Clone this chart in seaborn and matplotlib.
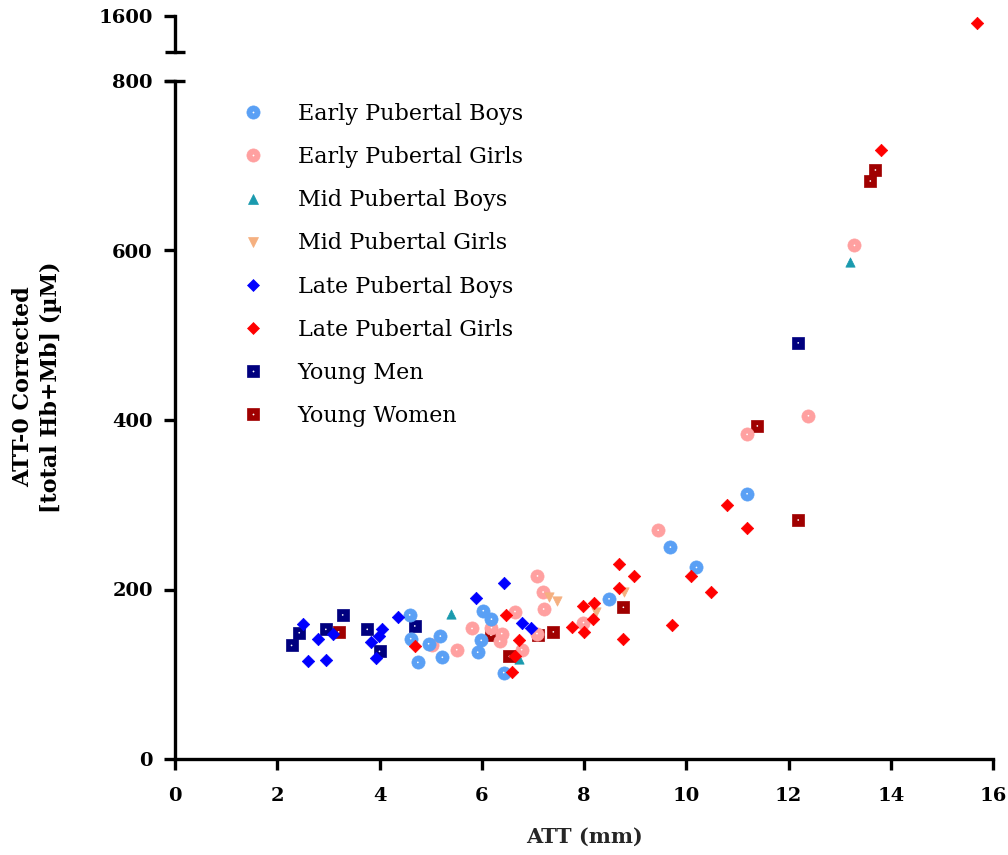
import matplotlib
matplotlib.use('Agg')
import matplotlib.pyplot as plt
import seaborn as sns
import pandas as pd
from matplotlib.lines import Line2D

# ATT (mm) and corrected [total Hb+Mb] (uM) per group
early_boys_att = [4.59, 4.61, 4.96, 5.19, 5.23, 4.75, 6.03, 6.19, 5.99, 5.92, 6.43, 8.49, 9.69, 10.20, 11.19]
early_boys_val = [170, 142, 136, 145, 120, 114, 175, 165, 140, 126, 102, 189, 250, 226, 313]

early_girls_att = [5.03, 5.51, 5.81, 6.19, 6.39, 6.35, 6.65, 6.78, 7.09, 7.20, 7.21, 7.08, 7.99, 9.45, 11.19, 12.39, 13.29]
early_girls_val = [134, 129, 154, 155, 148, 139, 174, 129, 216, 197, 177, 148, 161, 270, 383, 405, 606]

mid_boys_att = [5.39, 6.73, 13.20]
mid_boys_val = [171, 118, 586]

mid_girls_att = [7.31, 7.47, 8.24, 8.79]
mid_girls_val = [191, 186, 174, 197]

late_boys_att = [2.50, 2.79, 3.09, 2.61, 2.95, 4.05, 3.99, 3.83, 3.93, 4.36, 6.44, 5.89, 6.79, 6.97]
late_boys_val = [159, 142, 148, 116, 117, 153, 145, 138, 119, 167, 208, 190, 161, 155]

late_girls_att = [4.70, 6.48, 6.73, 6.66, 6.60, 7.76, 7.99, 8.19, 8.17, 8.00, 8.69, 8.68, 8.76, 8.98,
                  9.73, 10.09, 10.49, 10.79, 11.19, 13.80, 15.68]
late_girls_val = [133, 170, 140, 121, 103, 156, 180, 184, 165, 150, 230, 202, 142, 216,
                  158, 216, 197, 300, 273, 719, 1592]

young_men_att = [2.43, 2.28, 2.95, 3.28, 3.76, 4.00, 4.69, 12.19]
young_men_val = [149, 134, 153, 170, 153, 127, 157, 491]

young_women_att = [3.20, 6.18, 6.54, 7.11, 7.40, 8.77, 11.39, 12.19, 13.60, 13.70]
young_women_val = [150, 146, 121, 146, 150, 179, 393, 282, 682, 695]

groups = ['Early Pubertal Boys', 'Early Pubertal Girls', 'Mid Pubertal Boys', 'Mid Pubertal Girls',
          'Late Pubertal Boys', 'Late Pubertal Girls', 'Young Men', 'Young Women']
series = [(early_boys_att, early_boys_val), (early_girls_att, early_girls_val),
          (mid_boys_att, mid_boys_val), (mid_girls_att, mid_girls_val),
          (late_boys_att, late_boys_val), (late_girls_att, late_girls_val),
          (young_men_att, young_men_val), (young_women_att, young_women_val)]

colors = {'Early Pubertal Boys': '#5AA0F5', 'Early Pubertal Girls': '#FFA0A0',
          'Mid Pubertal Boys': '#1A9AAE', 'Mid Pubertal Girls': '#F5B080',
          'Late Pubertal Boys': '#0000FF', 'Late Pubertal Girls': '#FF0000',
          'Young Men': '#00007F', 'Young Women': '#A00000'}
markers = {'Early Pubertal Boys': 'o', 'Early Pubertal Girls': 'o',
           'Mid Pubertal Boys': '^', 'Mid Pubertal Girls': 'v',
           'Late Pubertal Boys': 'D', 'Late Pubertal Girls': 'D',
           'Young Men': 's', 'Young Women': 's'}
sizes = {'o': 90, '^': 45, 'v': 45, 'D': 40, 's': 80}

rows = []
for g, (xs, ys) in zip(groups, series):
    for x, y in zip(xs, ys):
        rows.append({'ATT': x, 'value': y, 'group': g})
df = pd.DataFrame(rows)

sns.set_style('ticks')
plt.rcParams['font.family'] = ['DejaVu Serif']
plt.rcParams['axes.edgecolor'] = 'black'
plt.rcParams['xtick.color'] = 'black'
plt.rcParams['ytick.color'] = 'black'
plt.rcParams['text.color'] = 'black'

W, H = 1008, 855
fig = plt.figure(figsize=(W / 100, H / 100), dpi=100)
ax = fig.add_axes([175 / W, 96 / H, 818 / W, 678 / H])
ax_top = fig.add_axes([175 / W, (H - 52) / H, 818 / W, 36 / H])

draw_order = ['Young Women', 'Young Men', 'Early Pubertal Girls', 'Early Pubertal Boys',
              'Mid Pubertal Girls', 'Mid Pubertal Boys', 'Late Pubertal Boys', 'Late Pubertal Girls']

for a in (ax, ax_top):
    for g in draw_order:
        sub = df[df['group'] == g]
        m = markers[g]
        sns.scatterplot(data=sub, x='ATT', y='value', ax=a, marker=m, s=sizes[m],
                        color=colors[g], edgecolor=colors[g], linewidth=0.5, legend=False)
        if m in ('o', 's'):
            sns.scatterplot(data=sub, x='ATT', y='value', ax=a, marker='o', s=1.5,
                            color='white', edgecolor='none', linewidth=0, legend=False)

lw = 2.4
ax.set_xlim(0, 16)
ax.set_ylim(0, 800)
ax.set_xticks(range(0, 17, 2))
ax.set_yticks(range(0, 801, 200))
ax.spines['top'].set_visible(False)
ax.spines['right'].set_visible(False)
for s in ('left', 'bottom'):
    ax.spines[s].set_linewidth(lw)
ax.tick_params(axis='both', direction='out', length=8, width=lw, labelsize=14)
ax.tick_params(axis='x', pad=12)
ax.tick_params(axis='y', pad=8)
for lab in ax.get_xticklabels() + ax.get_yticklabels():
    lab.set_fontweight('bold')
ax.set_xlabel('ATT (mm)', fontsize=15, fontweight='bold', labelpad=16)
ax.set_ylabel('')

# break marks
ax.plot([-0.012, 0.012], [1, 1], transform=ax.transAxes, color='black', lw=lw,
        clip_on=False, solid_capstyle='butt')

ax_top.set_xlim(0, 16)
ax_top.set_ylim(1557.5, 1600)
ax_top.set_yticks([1600])
ax_top.set_xticks([])
for s in ('top', 'right', 'bottom'):
    ax_top.spines[s].set_visible(False)
ax_top.spines['left'].set_linewidth(lw)
ax_top.tick_params(axis='y', direction='out', length=8, width=lw, labelsize=14, pad=8)
for lab in ax_top.get_yticklabels():
    lab.set_fontweight('bold')
ax_top.set_xlabel('')
ax_top.set_ylabel('')
ax_top.plot([-0.012, 0.012], [0, 0], transform=ax_top.transAxes, color='black', lw=lw,
            clip_on=False, solid_capstyle='butt')
ax_top.patch.set_alpha(0)

fig.text(37 / W, 1 - 387 / H, 'ATT-0 Corrected\n[total Hb+Mb] (µM)', rotation=90,
         ha='center', va='center', fontsize=16, fontweight='bold',
         multialignment='center', linespacing=1.35)

handles = []
for g in groups:
    m = markers[g]
    ms = sizes[m] ** 0.5
    h = Line2D([], [], linestyle='none', marker=m, markersize=ms, color=colors[g],
               markeredgecolor=colors[g], markeredgewidth=0.5)
    if m in ('o', 's'):
        dot = Line2D([], [], linestyle='none', marker='o', markersize=1.3, color='white',
                     markeredgewidth=0)
        handles.append((h, dot))
    else:
        handles.append(h)

fig.legend(handles, groups, loc='upper left', bbox_to_anchor=(231 / W, 1 - 92 / H),
           frameon=False, fontsize=16, borderpad=0, handlelength=1.0,
           handletextpad=1.5, labelspacing=0.95)

fig.savefig('out.png', dpi=100)
